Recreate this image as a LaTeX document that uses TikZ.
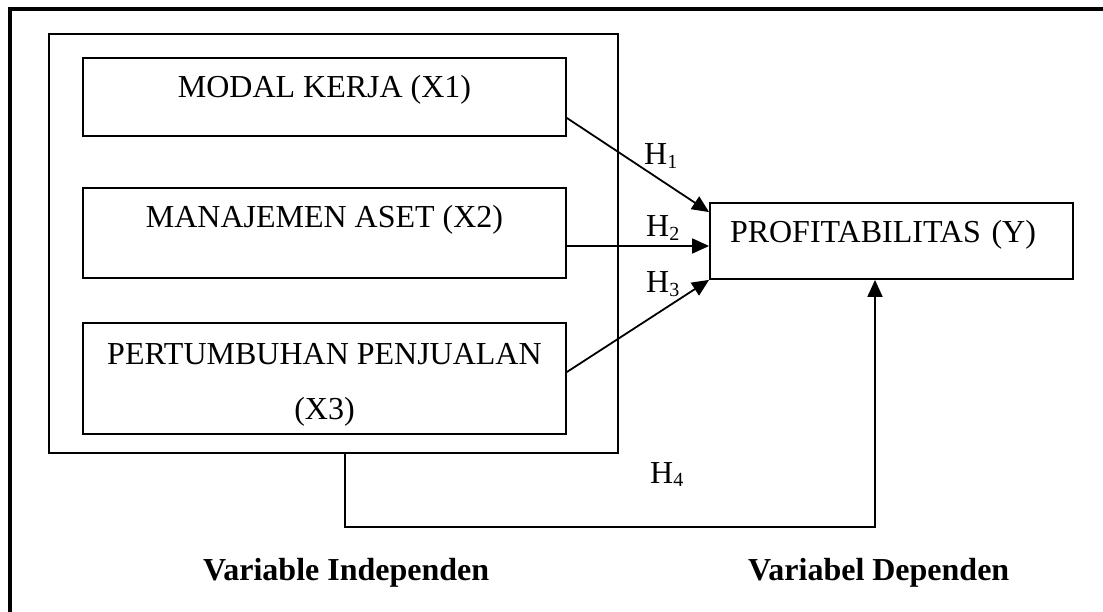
\documentclass[tikz,border=0pt]{standalone}
\usepackage{fontspec}
\setmainfont{Liberation Serif}
\usepackage{tikz}
\usetikzlibrary{arrows.meta}
\newcommand{\hsub}[1]{H\raisebox{-3.5pt}{\fontsize{20}{20}\selectfont #1}}

\begin{document}
\begin{tikzpicture}[x=1pt,y=-1pt,
        varbox/.style={draw,line width=1.8pt,rectangle,inner sep=0pt,align=center,font=\fontsize{32}{55}\selectfont},
        link/.style={line width=1.8pt,-{Triangle[length=17pt,width=15pt]}},
        hlabel/.style={anchor=base west,inner sep=0pt,font=\fontsize{32}{38}\selectfont},
        footlabel/.style={anchor=base west,inner sep=0pt,font=\fontsize{32}{38}\selectfont\bfseries}]
                \useasboundingbox (0,0) rectangle (1103,612);
                \draw[line width=4pt] (10,612) -- (10,9.5) -- (1103,9.5);

                \node[varbox,minimum width=569pt,minimum height=419pt] (grp) at (333.5,243.5) {};
                \node[varbox,minimum width=483pt,minimum height=78pt,text height=22pt,text depth=20pt] (x1) at (324.5,97) {MODAL KERJA (X1)};
                \node[varbox,minimum width=483pt,minimum height=90pt,text height=22pt,text depth=32pt] (x2) at (324.5,233) {MANAJEMEN ASET (X2)};
                \node[varbox,minimum width=483pt,minimum height=111pt,text height=88pt,text depth=7pt] (x3) at (324.5,378.5) {PERTUMBUHAN PENJUALAN\\(X3)};
                \node[varbox,minimum width=363pt,minimum height=76pt,inner xsep=20pt,text width=323pt,align=left,text height=22pt,text depth=18pt] (y) at (891.5,241) {PROFITABILITAS (Y)};

                \draw[link] ([yshift=-21pt]x1.east) -- ([yshift=-10pt]y.north west);
                \draw[link] ([yshift=-13pt]x2.east) -- ([yshift=-5pt]y.west);
                \draw[link] ([yshift=6.5pt]x3.east) -- (y.south west);
                \draw[link] ([xshift=11.5pt]grp.south) -- ++(0,73) -| ([xshift=-16.5pt]y.south);

                \node[hlabel] (h1) at (644,165) {\hsub{1}};
                \node[hlabel] (h2) at (646,237) {\hsub{2}};
                \node[hlabel] (h3) at (646,293) {\hsub{3}};
                \node[hlabel] (h4) at (650,483) {\hsub{4}};

                \node[footlabel] (indep) at (203,580) {Variable Independen};
                \node[footlabel] (dep) at (748,580) {Variabel Dependen};
            \end{tikzpicture}
\end{document}
